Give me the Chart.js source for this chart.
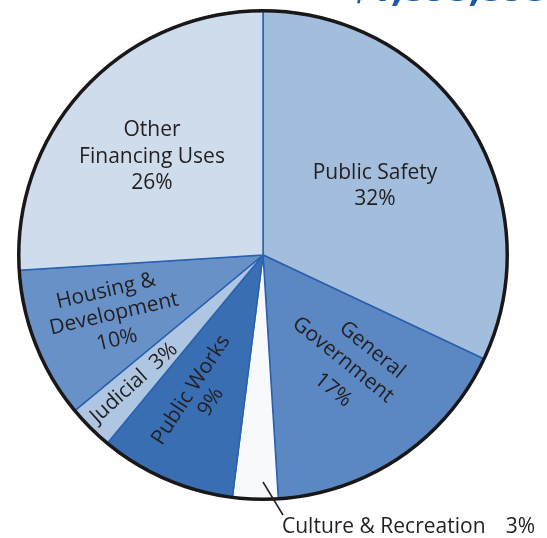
<!DOCTYPE html>
<html>
<head>
<meta charset="utf-8">
<script src="https://cdn.jsdelivr.net/npm/chart.js@4/dist/chart.umd.min.js"></script>
<style>
    html, body { margin: 0; padding: 0; background: #ffffff; }
    #wrap { width: 547px; height: 538px; position: relative; }
</style>
</head>
<body>
<div id="wrap"><canvas id="pie" width="547" height="538"></canvas></div>
<script>
    const categories = ["Public Safety", "General Government", "Culture & Recreation", "Public Works", "Judicial", "Housing & Development", "Other Financing Uses"];
    const shares = [32, 17, 3, 9, 3, 10, 26];
    const sliceColors = ["#a3bddc", "#5b88c2", "#f7f9fd", "#3a6eb3", "#afc6e3", "#6892c7", "#cfdcec"];
    const titleFragment = "$1,595,595";

    const textColor = "#231f20";
    const labelFont = "21px 'Open Sans'";

    // label text positions on the canvas, one entry per slice
    const labelLayout = [
        { rot: 0, lines: [["Public Safety", 375, 173], ["{p}", 375, 199]] },
        { rot: 39, lines: [["General", 372, 350], ["Government", 343, 360], ["{p}", 333, 390]] },
        { outside: true, x: 282, y: 527, from: [263, 482], to: [283, 515], text: "Culture & Recreation", pctX: 535 },
        { rot: -57, lines: [["Public Works", 191, 390], ["{p}", 211, 402]] },
        { rot: -42, lines: [["Judicial  {p}", 134, 383]] },
        { rot: -13, lines: [["Housing &", 106, 291], ["Development", 114, 314], ["{p}", 117, 340]] },
        { rot: 0, lines: [["Other", 152, 130], ["Financing Uses", 152, 157], ["{p}", 152, 183]] }
    ];

    const pieDecor = {
        id: "pieDecor",
        afterDatasetsDraw: function (chart) {
            const ctx = chart.ctx;
            const arc = chart.getDatasetMeta(0).data[0];

            // black rim round the pie
            ctx.save();
            ctx.beginPath();
            ctx.arc(arc.x, arc.y, arc.outerRadius, 0, Math.PI * 2);
            ctx.lineWidth = 3.5;
            ctx.strokeStyle = "#1a1718";
            ctx.stroke();
            ctx.restore();

            ctx.save();
            ctx.fillStyle = textColor;
            ctx.font = labelFont;
            ctx.textBaseline = "middle";
            labelLayout.forEach(function (item, i) {
                const pct = shares[i] + "%";
                if (item.outside) {
                    ctx.beginPath();
                    ctx.moveTo(item.from[0], item.from[1]);
                    ctx.lineTo(item.to[0], item.to[1]);
                    ctx.lineWidth = 1.5;
                    ctx.strokeStyle = textColor;
                    ctx.stroke();
                    ctx.textAlign = "left";
                    ctx.fillText(item.text, item.x, item.y);
                    ctx.textAlign = "right";
                    ctx.fillText(pct, item.pctX, item.y);
                    return;
                }
                ctx.textAlign = "center";
                item.lines.forEach(function (line) {
                    ctx.save();
                    ctx.translate(line[1], line[2]);
                    ctx.rotate(item.rot * Math.PI / 180);
                    ctx.fillText(line[0].replace("{p}", pct), 0, 0);
                    ctx.restore();
                });
            });

            // title running off the top edge
            ctx.font = "italic bold 40px 'Open Sans'";
            ctx.fillStyle = "#1b5aa8";
            ctx.textAlign = "left";
            ctx.textBaseline = "alphabetic";
            ctx.fillText(titleFragment, 350, 1);
            ctx.restore();
        }
    };

    new Chart(document.getElementById("pie").getContext("2d"), {
        type: "pie",
        data: {
            labels: categories,
            datasets: [{
                data: shares,
                backgroundColor: sliceColors,
                borderColor: "#2a62b0",
                borderWidth: 1.5
            }]
        },
        options: {
            responsive: false,
            animation: false,
            layout: {
                padding: { left: 18, right: 39, top: 10, bottom: 38 }
            },
            plugins: {
                legend: { display: false },
                tooltip: { enabled: false }
            }
        },
        plugins: [pieDecor]
    });
</script>
</body>
</html>
